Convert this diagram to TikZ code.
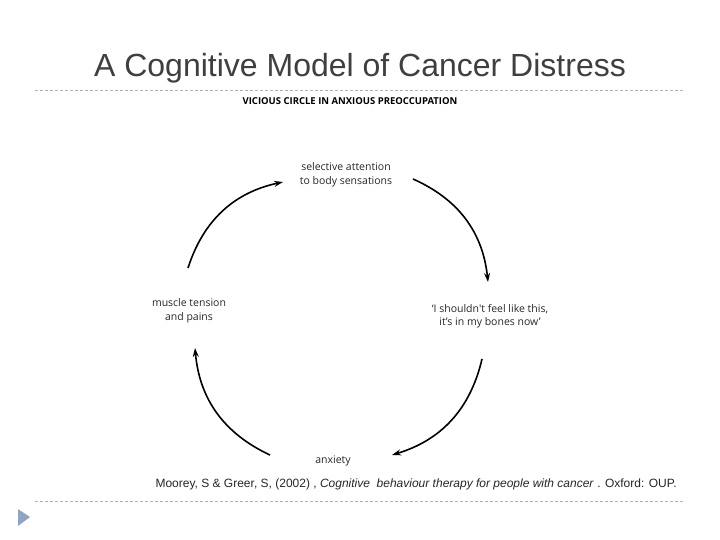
\documentclass[tikz,border=0pt]{standalone}
\usepackage{fontspec}
\setmainfont{Liberation Sans}
\newfontfamily\diag{Open Sans}
\usetikzlibrary{arrows.meta}
\definecolor{titlegray}{HTML}{3F3F3F}
\definecolor{bul}{HTML}{8FA5C3}
\begin{document}
\begin{tikzpicture}[x=1pt,y=-1pt,
  lbl/.style={font=\diag\fontsize{10.5}{13.5}\selectfont,align=center,text=black!85},
  arc/.style={line width=1.6pt,-{Stealth[length=9pt,width=6pt]}},
  sep/.style={gray!60,dashed,dash pattern=on 3pt off 2pt,line width=0.6pt}]
\useasboundingbox (0,0) rectangle (720,540);
\node[text=titlegray] (title) at (360,68) {\fontsize{32}{36}\selectfont A Cognitive Model of Cancer Distress};
\draw[sep] (35,90) -- (685,90);
\node (sub) at (350,101) {\diag\bfseries\fontsize{9.5}{11}\selectfont VICIOUS CIRCLE IN ANXIOUS PREOCCUPATION};
\node[lbl] (sel) at (346,175) {selective attention\\to body sensations};
\node[lbl] (sho) at (490,316) {‘I shouldn't feel like this,\\it’s in my bones now’};
\node[lbl] (anx) at (333,461) {anxiety};
\node[lbl] (mus) at (189,311) {muscle tension\\and pains};
\coordinate (a1) at (188,268); \coordinate (a2) at (283,182);
\coordinate (b1) at (413,179); \coordinate (b2) at (488,282);
\coordinate (c1) at (482,359); \coordinate (c2) at (392,455);
\coordinate (d1) at (270,455); \coordinate (d2) at (195,348);
\draw[arc] (a1) to[bend left=30] (a2);
\draw[arc] (b1) to[bend left=30] (b2);
\draw[arc] (c1) to[bend left=30] (c2);
\draw[arc] (d1) to[bend left=30] (d2);
\node[anchor=west,font=\fontsize{12}{14}\selectfont,text=black!85] (cite) at (152,484) {Moorey, S \& Greer, S, (2002) , \textit{Cognitive\ \ behaviour therapy for people with cancer} . Oxford: OUP.};
\draw[sep] (35,501) -- (685,501);
\fill[bul] (18,509) -- (30,517) -- (18,526) -- cycle;
\end{tikzpicture}
\end{document}
